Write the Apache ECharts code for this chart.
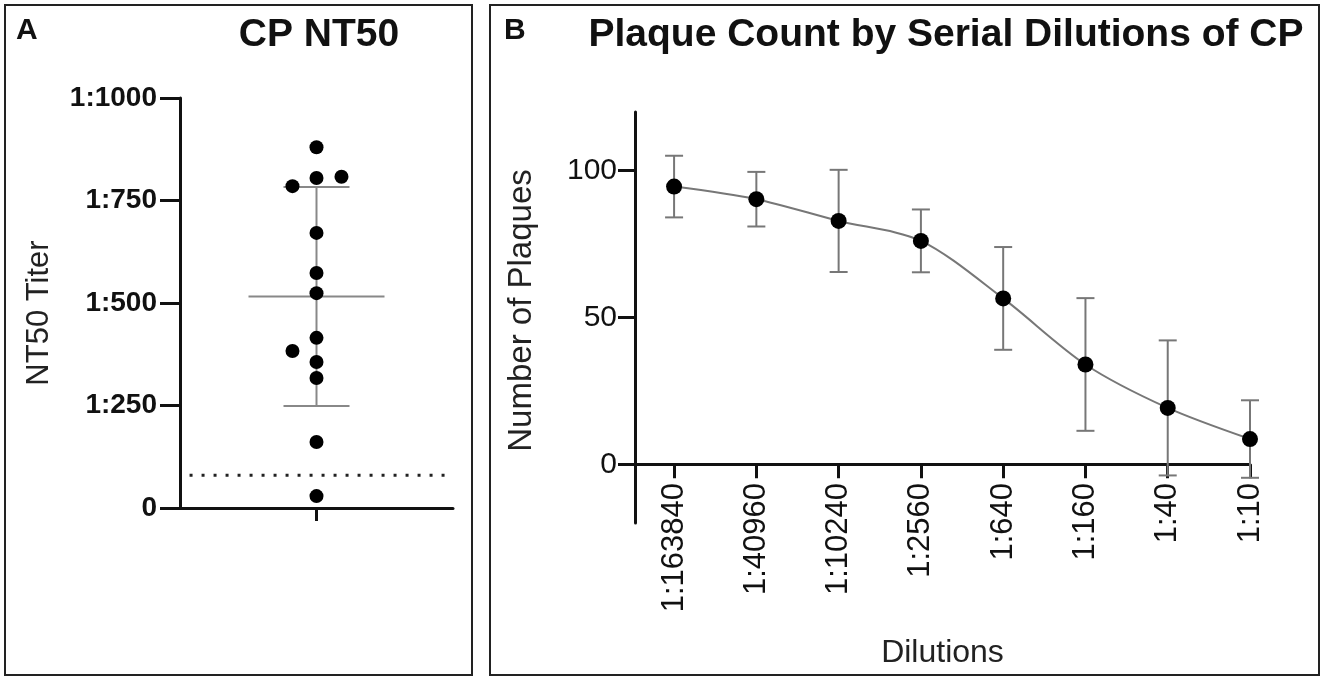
<!DOCTYPE html>
<html>
<head>
<meta charset="utf-8">
<script src="https://cdn.jsdelivr.net/npm/echarts@6/dist/echarts.min.js"></script>
<style>
  html, body { margin: 0; padding: 0; background: #fff; }
  #main { width: 1329px; height: 677px; }
</style>
</head>
<body>
<div id="main"></div>
<script>
// panel A: NT50 titers of the convalescent plasma donors (x = jitter around the single column)
var titerValues = [880, 785, 805, 808, 671, 573, 524, 415, 383, 356, 317, 161, 29];
var titerJitter = [0, -0.176, 0, 0.183, 0, 0, 0, 0, -0.176, 0, 0, 0, 0];
var titerTicks = [0, 250, 500, 750, 1000];
var limitOfDetection = 80;

// panel B: plaque counts by dilution
var dilutions = ['1:163840', '1:40960', '1:10240', '1:2560', '1:640', '1:160', '1:40', '1:10'];
var plaqueMean = [94.6, 90.3, 82.9, 76.1, 56.5, 34.0, 19.2, 8.6];
var plaqueSD = [10.5, 9.3, 17.4, 10.7, 17.5, 22.6, 23.0, 13.2];
var plaqueTicks = [0, 50, 100];

var FONT = "'Liberation Sans', Arial, sans-serif";

var mean = titerValues.reduce(function (a, b) { return a + b; }, 0) / titerValues.length;
var sd = Math.sqrt(titerValues.reduce(function (a, b) { return a + (b - mean) * (b - mean); }, 0) / (titerValues.length - 1));

var myChart = echarts.init(document.getElementById('main'));

var option = {
    backgroundColor: '#ffffff',
    animation: false,
    textStyle: { fontFamily: FONT },
    title: [
        { text: 'A', left: 11, top: 11, textStyle: { fontSize: 30, fontWeight: 'bold', color: '#111', fontFamily: FONT } },
        { text: 'CP NT50', left: 314, top: 11, textAlign: 'center', textStyle: { fontSize: 39, fontWeight: 'bold', color: '#111', fontFamily: FONT } },
        { text: 'B', left: 499, top: 11, textStyle: { fontSize: 30, fontWeight: 'bold', color: '#111', fontFamily: FONT } },
        { text: 'Plaque Count by Serial Dilutions of CP', left: 941, top: 11, textAlign: 'center', textStyle: { fontSize: 39, fontWeight: 'bold', color: '#111', fontFamily: FONT } }
    ],
    graphic: [
        { type: 'rect', shape: { x: 5, y: 5, width: 467, height: 670 }, style: { fill: 'none', stroke: '#222', lineWidth: 2 } },
        { type: 'rect', shape: { x: 490, y: 5, width: 829, height: 670 }, style: { fill: 'none', stroke: '#222', lineWidth: 2 } }
    ],
    grid: [
        { left: 180, top: 98, width: 273, height: 410, outerBoundsMode: 'none', containLabel: false },
        { left: 635, top: 112, width: 615, height: 411, outerBoundsMode: 'none', containLabel: false }
    ],
    xAxis: [
        {
            gridIndex: 0, type: 'value', min: -1, max: 1,
            axisLine: { show: true, lineStyle: { color: '#111', width: 3 } },
            axisTick: { show: true, customValues: [0], length: 13, lineStyle: { color: '#111', width: 3 } },
            axisLabel: { show: false },
            splitLine: { show: false }
        },
        {
            gridIndex: 1, type: 'value', min: -0.475, max: 7,
            name: 'Dilutions', nameLocation: 'middle', nameGap: 114,
            nameTextStyle: { fontSize: 32, color: '#222', fontFamily: FONT },
            axisLine: { show: true, onZero: true, lineStyle: { color: '#111', width: 3 } },
            axisTick: { show: true, customValues: [0, 1, 2, 3, 4, 5, 6, 7], length: 14, lineStyle: { color: '#111', width: 3 } },
            axisLabel: {
                customValues: [0, 1, 2, 3, 4, 5, 6, 7], rotate: 90, margin: -40,
                fontSize: 31, color: '#111', fontFamily: FONT,
                formatter: function (v) { return dilutions[Math.round(v)]; }
            },
            splitLine: { show: false }
        }
    ],
    yAxis: [
        {
            gridIndex: 0, type: 'value', min: 0, max: 1000, interval: 250,
            name: 'NT50 Titer', nameLocation: 'middle', nameGap: 125,
            nameTextStyle: { fontSize: 31, color: '#222', fontFamily: FONT, padding: [0, 20, 0, 0] },
            axisLine: { show: true, onZero: false, lineStyle: { color: '#111', width: 3 } },
            axisTick: { show: true, length: 20, lineStyle: { color: '#111', width: 3 } },
            axisLabel: {
                margin: 23, fontSize: 28, fontWeight: 'bold', color: '#111', fontFamily: FONT,
                formatter: function (v) { return v === 0 ? '0' : '1:' + v; }
            },
            splitLine: { show: false }
        },
        {
            gridIndex: 1, type: 'value', min: -20, max: 120,
            name: 'Number of Plaques', nameLocation: 'middle', nameGap: 97,
            nameTextStyle: { fontSize: 33, color: '#222', fontFamily: FONT, padding: [0, 0, 0, 14] },
            axisLine: { show: true, onZero: false, lineStyle: { color: '#111', width: 3 } },
            axisTick: { show: true, customValues: plaqueTicks, length: 17, lineStyle: { color: '#111', width: 3 } },
            axisLabel: { customValues: plaqueTicks, margin: 18, fontSize: 30, color: '#111', fontFamily: FONT },
            splitLine: { show: false }
        }
    ],
    series: [
        {
            // limit of detection
            type: 'line', xAxisIndex: 0, yAxisIndex: 0,
            data: [[-0.93, limitOfDetection], [0.99, limitOfDetection]],
            symbol: 'none', silent: true,
            lineStyle: { color: '#222', width: 3, type: [3, 9] },
            z: 1
        },
        {
            // mean +/- SD
            type: 'custom', xAxisIndex: 0, yAxisIndex: 0,
            data: [[0, mean, sd]],
            renderItem: function (params, api) {
                var c = api.coord([api.value(0), api.value(1)]);
                var hi = api.coord([api.value(0), api.value(1) + api.value(2)]);
                var lo = api.coord([api.value(0), api.value(1) - api.value(2)]);
                var st = { stroke: '#888', lineWidth: 2 };
                return {
                    type: 'group', children: [
                        { type: 'line', shape: { x1: hi[0], y1: hi[1], x2: lo[0], y2: lo[1] }, style: st },
                        { type: 'line', shape: { x1: c[0] - 68, y1: c[1], x2: c[0] + 68, y2: c[1] }, style: st },
                        { type: 'line', shape: { x1: hi[0] - 33, y1: hi[1], x2: hi[0] + 33, y2: hi[1] }, style: st },
                        { type: 'line', shape: { x1: lo[0] - 33, y1: lo[1], x2: lo[0] + 33, y2: lo[1] }, style: st }
                    ]
                };
            },
            z: 2
        },
        {
            type: 'scatter', xAxisIndex: 0, yAxisIndex: 0,
            data: titerValues.map(function (v, i) { return [titerJitter[i], v]; }),
            symbol: 'circle', symbolSize: 14,
            itemStyle: { color: '#000', opacity: 1 },
            z: 5
        },
        {
            // error bars panel B
            type: 'custom', xAxisIndex: 1, yAxisIndex: 1,
            data: plaqueMean.map(function (m, i) { return [i, m - plaqueSD[i], m + plaqueSD[i]]; }),
            renderItem: function (params, api) {
                var lo = api.coord([api.value(0), api.value(1)]);
                var hi = api.coord([api.value(0), api.value(2)]);
                var st = { stroke: '#777', lineWidth: 2 };
                return {
                    type: 'group', children: [
                        { type: 'line', shape: { x1: hi[0], y1: hi[1], x2: lo[0], y2: lo[1] }, style: st },
                        { type: 'line', shape: { x1: hi[0] - 9, y1: hi[1], x2: hi[0] + 9, y2: hi[1] }, style: st },
                        { type: 'line', shape: { x1: lo[0] - 9, y1: lo[1], x2: lo[0] + 9, y2: lo[1] }, style: st }
                    ]
                };
            },
            z: 2
        },
        {
            type: 'line', xAxisIndex: 1, yAxisIndex: 1,
            data: plaqueMean.map(function (m, i) { return [i, m]; }),
            smooth: 0.3,
            symbol: 'circle', symbolSize: 16, showSymbol: true,
            itemStyle: { color: '#000', opacity: 1 },
            lineStyle: { color: '#777', width: 2 },
            z: 5
        }
    ]
};

myChart.setOption(option);
</script>
</body>
</html>
